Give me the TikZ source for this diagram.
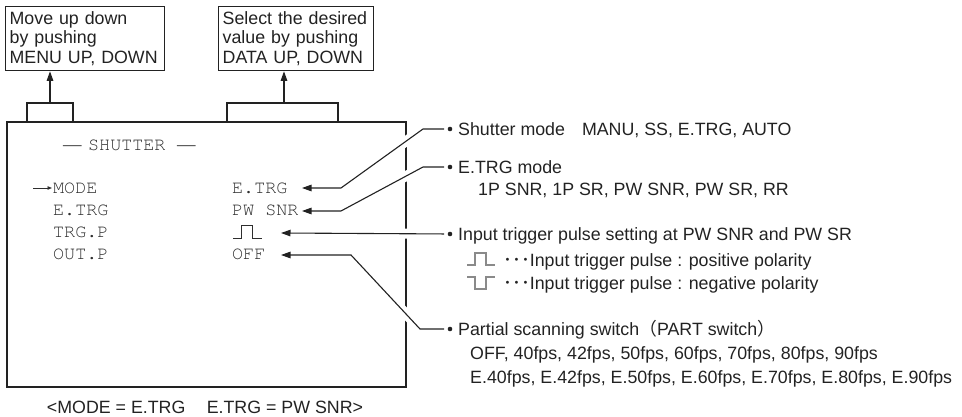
\documentclass[tikz,border=0pt]{standalone}
\usepackage[T1,TU]{fontenc}
\usepackage{fontspec}
\setmainfont{Liberation Sans}
\newfontfamily\cjkfont{Noto Sans CJK JP}
\newfontfamily\dashfont{Liberation Serif}
\newcommand\menufont{\fontencoding{T1}\fontfamily{pcr}\selectfont}
\usetikzlibrary{arrows.meta}
\definecolor{ink}{HTML}{222222}
\definecolor{menu}{HTML}{2E2E2E}
\definecolor{pulsegray}{HTML}{8A8A8A}
\tikzset{
  lbl/.style={anchor=west, inner sep=0pt, text height=12.8pt, text depth=0pt,
    font=\fontsize{17.8}{19.5}\selectfont, text=ink},
  mono/.style={anchor=west, inner sep=0pt, text height=10.4pt, text depth=0pt,
    font=\menufont\fontsize{18.4}{20}\selectfont, text=menu},
  tbox/.style={draw=ink, line width=1.3pt, anchor=north west, align=left,
    inner xsep=4pt, inner ysep=0pt, minimum height=64pt,
    font=\fontsize{17.8}{19.5}\selectfont, text=ink},
  conn/.style={draw=ink, line width=1.1pt, -{Triangle[length=9.5pt,width=6.5pt]}},
  halo/.style={draw=white, line width=10pt},
  bracket/.style={draw=ink, line width=1.1pt},
  bullet/.style={circle, fill=ink, inner sep=0pt, minimum size=4.6pt, outer sep=3.5pt},
  pulse/.style={draw=pulsegray, line width=1.2pt},
  menupulse/.style={draw=menu, line width=1pt}
}
\begin{document}
\begin{tikzpicture}[x=1pt,y=-1pt]
\useasboundingbox (0,0) rectangle (962,417);

% top instruction boxes
\node[tbox, text width=151pt] (tb1) at (5,6) {Move up down\\by pushing\\MENU UP, DOWN};
\node[tbox, text width=147pt] (tb2) at (218,6) {Select the desired\\value by pushing\\DATA UP, DOWN};

% main menu screen
\node[draw=ink, line width=2pt, anchor=north west, minimum width=399pt, minimum height=265pt, inner sep=0pt] (screen) at (6,121) {};

% brackets and arrows to the top boxes
\coordinate (br1) at (50,103);
\coordinate (br2) at (284,103);
\draw[bracket] (27,121) -- (27,103) -- (73,103) -- (73,121);
\draw[bracket] (227,121) -- (227,103) -- (338,103) -- (338,121);
\draw[conn] (br1) -- (tb1.south -| br1);
\draw[conn] (br2) -- (tb2.south -| br2);

% menu contents
\node[mono, font=\dashfont\fontsize{18.5}{20}\selectfont] (d1) at (63,145) {—};
\node[mono] (title) at (88,145) {SHUTTER};
\node[mono, font=\dashfont\fontsize{18.5}{20}\selectfont] (d2) at (177,145) {—};

\coordinate (cur) at (33,188);
\draw[draw=menu, line width=0.9pt, -{Triangle[length=4.5pt,width=3.5pt]}] (cur) -- (52,188);
\node[mono] (k1) at (53,188) {MODE};
\node[mono] (k2) at (53,210) {E.TRG};
\node[mono] (k3) at (53,232) {TRG.P};
\node[mono] (k4) at (53,254) {OUT.P};
\node[mono] (v1) at (232,188) {E.TRG};
\node[mono] (v2) at (232,210) {PW SNR};
\coordinate (v3) at (233,238);
\draw[menupulse] (v3) -- (241,238) -- (241,226) -- (252,226) -- (252,238) -- (262,238);
\node[mono] (v4) at (232,254) {OFF};

% arrow tips
\coordinate (t1) at (302,188);
\coordinate (t2) at (302,211);
\coordinate (t3) at (281,233);
\coordinate (t4) at (281,255);

% bullets
\node[bullet] (b1) at (450,129) {};
\node[bullet] (b2) at (450,167) {};
\node[bullet] (b3) at (450,234) {};
\node[bullet] (b4) at (450,329) {};

% halos (gaps in the screen border)
\draw[halo, shorten <=10pt, shorten >=30pt] (b1) -- (423,129) -- (341,188) -- (t1);
\draw[halo, shorten <=10pt, shorten >=30pt] (b2) -- (423,167) -- (341,211) -- (t2);
\draw[halo, shorten <=20pt, shorten >=100pt] (b3) -- (t3);
\draw[halo, shorten <=10pt, shorten >=40pt] (b4) -- (420,329) -- (351,255) -- (t4);

% connectors
\draw[conn] (b1) -- (423,129) -- (341,188) -- (t1);
\draw[conn] (b2) -- (423,167) -- (341,211) -- (t2);
\draw[conn] (b3) -- (t3);
\draw[conn] (b4) -- (420,329) -- (351,255) -- (t4);

% right-hand descriptions
\node[lbl] (l1) at (458,129) {Shutter mode\hspace{17pt}MANU, SS, E.TRG, AUTO};
\node[lbl] (l2) at (458,167) {E.TRG mode};
\node[lbl] (l2b) at (478,189) {1P SNR, 1P SR, PW SNR, PW SR, RR};
\node[lbl] (l3) at (458,234) {Input trigger pulse setting at PW SNR and PW SR};

\coordinate (p1) at (467,265);
\draw[pulse] (p1) -- (475,265) -- (475,253) -- (486,253) -- (486,265) -- (495,265);
\node[lbl] (l3a) at (503,260) {{\cjkfont ･･･}Input trigger pulse : positive polarity};
\coordinate (p2) at (467,277);
\draw[pulse] (p2) -- (475,277) -- (475,289) -- (486,289) -- (486,277) -- (495,277);
\node[lbl] (l3b) at (503,283) {{\cjkfont ･･･}Input trigger pulse : negative polarity};

\node[lbl] (l4) at (458,329) {Partial scanning switch{\cjkfont （}PART switch{\cjkfont ）}};
\node[lbl] (l4a) at (470,353) {OFF, 40fps, 42fps, 50fps, 60fps, 70fps, 80fps, 90fps};
\node[lbl] (l4b) at (470,377) {E.40fps, E.42fps, E.50fps, E.60fps, E.70fps, E.80fps, E.90fps};

% caption
\node[lbl, anchor=center] (caption) at (205,407) {<MODE = E.TRG\hspace{1.2em}E.TRG = PW SNR>};
\end{tikzpicture}
\end{document}
